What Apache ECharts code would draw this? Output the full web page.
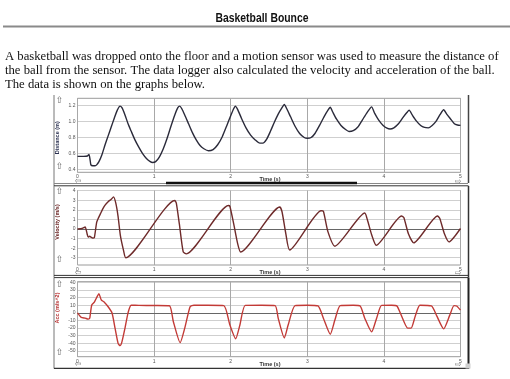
<!DOCTYPE html>
<html>
<head>
<meta charset="utf-8">
<script src="https://cdn.jsdelivr.net/npm/echarts@6/dist/echarts.min.js"></script>
<style>
html,body{margin:0;padding:0;background:#fff;}
#c{width:510px;height:379px;}
</style>
</head>
<body>
<div id="c"></div>
<script>
// ---------- data ----------
const xTicks = [0, 1, 2, 3, 4, 5];
const distYTicks = [0.4, 0.6, 0.8, 1.0, 1.2];
const velYTicks = [-3, -2, -1, 0, 1, 2, 3, 4];
const accYTicks = [-50, -40, -30, -20, -10, 0, 10, 20, 30, 40];

const distT = [0.00,0.08,0.13,0.15,0.165,0.175,0.20,0.23,0.25,0.28,0.32,0.36,0.40,0.44,0.48,0.52,0.555,0.58,0.62,0.66,0.70,0.75,0.80,0.85,0.90,0.95,0.98,1.02,1.07,1.12,1.17,1.22,1.27,1.31,1.335,1.36,1.40,1.45,1.50,1.55,1.60,1.65,1.71,1.77,1.83,1.89,1.95,2.00,2.04,2.06,2.09,2.14,2.20,2.26,2.32,2.38,2.42,2.47,2.52,2.57,2.62,2.67,2.70,2.73,2.78,2.84,2.90,2.96,3.00,3.05,3.10,3.16,3.22,3.27,3.30,3.33,3.38,3.44,3.50,3.545,3.60,3.66,3.72,3.78,3.84,3.88,3.93,3.99,4.04,4.08,4.13,4.19,4.25,4.30,4.33,4.37,4.42,4.48,4.53,4.58,4.63,4.68,4.73,4.78,4.82,4.87,4.92,4.96,5.00];
const distV = [0.565,0.565,0.57,0.59,0.52,0.46,0.45,0.45,0.46,0.50,0.59,0.71,0.82,0.93,1.04,1.14,1.19,1.17,1.08,0.97,0.88,0.77,0.68,0.60,0.54,0.50,0.49,0.50,0.56,0.66,0.79,0.94,1.08,1.17,1.19,1.16,1.08,0.97,0.86,0.77,0.70,0.66,0.635,0.65,0.71,0.81,0.95,1.07,1.16,1.19,1.15,1.04,0.92,0.83,0.77,0.73,0.73,0.78,0.88,0.99,1.09,1.17,1.21,1.16,1.06,0.94,0.85,0.80,0.79,0.80,0.85,0.95,1.06,1.14,1.175,1.12,1.03,0.95,0.90,0.875,0.885,0.93,1.02,1.11,1.18,1.10,1.02,0.95,0.915,0.905,0.92,0.97,1.05,1.11,1.14,1.08,1.01,0.95,0.925,0.92,0.95,1.00,1.08,1.145,1.09,1.03,0.97,0.955,0.95];

const velT = [0.00,0.06,0.10,0.125,0.14,0.16,0.175,0.20,0.22,0.25,0.27,0.30,0.33,0.36,0.40,0.44,0.47,0.50,0.53,0.56,0.60,0.63,1.27,1.29,1.33,1.38,1.42,1.97,1.99,2.04,2.09,2.13,2.64,2.67,2.72,2.77,3.18,3.21,3.27,3.36,3.75,3.79,3.84,3.90,4.23,4.26,4.32,4.39,4.70,4.73,4.79,4.85,5.00];
const velV = [0.0,0.05,0.2,-0.5,-0.85,-0.75,-0.85,-0.95,-0.9,0.7,1.1,1.6,2.1,2.5,2.85,3.1,3.35,2.7,1.3,-0.7,-2.2,-3.0,2.98,2.7,0.5,-2.4,-2.6,2.45,2.35,0.5,-1.5,-2.4,2.3,1.8,-0.5,-2.2,1.9,1.85,-0.3,-1.8,1.67,0.8,-0.6,-1.7,1.35,1.2,-0.5,-1.45,1.35,1.1,-0.5,-1.35,0.05];

const accT = [0.00,0.05,0.10,0.14,0.16,0.185,0.22,0.25,0.28,0.31,0.35,0.40,0.45,0.49,0.53,0.555,0.58,0.62,0.66,0.70,0.80,1.00,1.20,1.25,1.34,1.40,1.47,1.52,1.70,1.91,1.99,2.065,2.12,2.19,2.40,2.58,2.62,2.70,2.75,2.84,3.00,3.14,3.21,3.30,3.36,3.43,3.60,3.69,3.75,3.84,3.905,3.97,4.10,4.17,4.23,4.31,4.355,4.41,4.47,4.62,4.69,4.78,4.86,4.915,4.95,5.00];
const accV = [0,-6,-7,-8.2,-7,10,14,20,25,17,14,8,0,-20,-40,-43,-38,-20,0,10,9.8,9.6,9.3,-11,-39,-20,8,10,10,9.5,-16,-34,-16,9.8,10,9.5,-7,-33,-16,9.5,10,9,-7,-28,-9.5,9.5,10,9,-7,-25,-7,9.8,10,9,-4,-20,-20,-4,10,9,-4,-21,-3,9.5,9,3.5];

// ---------- layout ----------
const plotLeft = 77.5, plotWidth = 383;
const panels = [
  {plotTop:98.3, plotBottom:172.3, tickTop:105.3, tickBottom:169.7, ticks:distYTicks, t:distT, v:distV,
   color:'#2a2a3a', dec:1, zero:false},
  {plotTop:190.5, plotBottom:265, tickTop:190.7, tickBottom:257.7, ticks:velYTicks, t:velT, v:velV,
   color:'#6e2a2a', dec:0, zero:true},
  {plotTop:281.7, plotBottom:356.7, tickTop:282.3, tickBottom:351, ticks:accYTicks, t:accT, v:accV,
   color:'#c23a36', dec:0, zero:true}
];

const grid = [], xAxis = [], yAxis = [], series = [];
panels.forEach((p, i) => {
  const tMin = p.ticks[0], tMax = p.ticks[p.ticks.length - 1];
  const step = p.ticks[1] - p.ticks[0];
  const ppu = (p.tickBottom - p.tickTop) / (tMax - tMin);
  const dMax = tMax + (p.tickTop - p.plotTop) / ppu;
  const dMin = tMin - (p.plotBottom - p.tickBottom) / ppu;
  grid.push({left:plotLeft, top:p.plotTop, width:plotWidth, height:p.plotBottom - p.plotTop,
    show:true, borderColor:'#9a9a9a', borderWidth:1, backgroundColor:'transparent'});
  grid.push({left:plotLeft, top:p.tickTop, width:plotWidth, height:p.tickBottom - p.tickTop, show:false});
  xAxis.push({type:'value', gridIndex:2*i, min:xTicks[0], max:xTicks[xTicks.length-1], interval:xTicks[1]-xTicks[0],
    axisLine:{show:false}, axisTick:{show:false},
    axisLabel:{fontSize:5, color:'#555', margin:2, fontFamily:'Liberation Sans'},
    splitLine:{show:true, lineStyle:{color:'#a8a8a8', width:1}}});
  xAxis.push({type:'value', gridIndex:2*i+1, min:xTicks[0], max:xTicks[xTicks.length-1], show:false});
  yAxis.push({type:'value', gridIndex:2*i, min:dMin, max:dMax, show:false, splitLine:{show:false}});
  yAxis.push({type:'value', gridIndex:2*i+1, min:tMin, max:tMax, interval:step,
    axisLine:{show:false}, axisTick:{show:false},
    axisLabel:{fontSize:5, color:'#555', margin:2, fontFamily:'Liberation Sans',
      formatter: v => v.toFixed(p.dec)},
    splitLine:{show:true, lineStyle:{color:'#cfcfcf', width:1}}});
  const s = {type:'line', xAxisIndex:2*i, yAxisIndex:2*i, data:p.t.map((x, k) => [x, p.v[k]]),
    symbol:'none', smooth:0.2, lineStyle:{color:p.color, width:1.4}, z:5, silent:true};
  if (p.zero) {
    s.markLine = {silent:true, symbol:'none', label:{show:false},
      lineStyle:{color:'#666', width:1, type:'solid'}, data:[{yAxis:0}]};
  }
  series.push(s);
});

// ---------- decorations (text, frames, icons) ----------
const g = [];
function txt(x, y, text, font, fill, opts) {
  g.push(Object.assign({type:'text', x:x, y:y, silent:true, z:10,
    style:{text:text, x:0, y:0, font:font, fill:fill, align:'center', verticalAlign:'middle',
      textAlign:'center', textVerticalAlign:'middle'}}, opts || {}));
}
function ln(x1, y1, x2, y2, color, w) {
  g.push({type:'line', silent:true, z:10, shape:{x1:x1, y1:y1, x2:x2, y2:y2},
    style:{stroke:color, lineWidth:w}});
}
txt(262, 18, 'Basketball Bounce', 'bold 13px "Liberation Sans", Arial, sans-serif', '#111', {scaleX:0.8});
ln(3, 26.5, 510, 26.5, '#8a8a8a', 2);
const para = [
  'A basketball was dropped onto the floor and a motion sensor was used to measure the distance of',
  'the ball from the sensor. The data logger also calculated the velocity and acceleration of the ball.',
  'The data is shown on the graphs below.'
];
para.forEach((line, k) => {
  g.push({type:'text', x:5, y:56.5 + k*14, silent:true, z:10,
    style:{text:line, x:0, y:0, font:'12.7px "Liberation Serif", "Times New Roman", serif', fill:'#111',
      align:'left', verticalAlign:'middle', textAlign:'left', textVerticalAlign:'middle'}});
});

// panel frames
ln(54, 95, 54, 186, '#777', 1);
ln(468.5, 95, 468.5, 183, '#444', 1.5);
ln(54, 183.5, 468, 183.5, '#888', 1);
ln(166, 183, 357, 183, '#111', 2.5);
ln(54, 185.8, 468.5, 185.8, '#333', 1);
ln(54, 186, 54, 277.5, '#777', 1);
ln(468.5, 186, 468.5, 277.5, '#333', 1.5);
ln(54, 275.4, 468.5, 275.4, '#333', 1);
ln(54, 277.6, 468.5, 277.6, '#333', 1);
ln(54, 277.6, 54, 368.5, '#777', 1);
ln(468.5, 277.6, 468.5, 368.5, '#222', 2);
ln(54, 368.3, 469, 368.3, '#333', 1.2);
g.push({type:'rect', silent:true, z:10, shape:{x:465.5, y:363.5, width:5, height:5}, style:{fill:'#cfcfcf'}});

// axis names & icons
const yNames = [['Distance (m)', 137.7, '#2a3050'], ['Velocity (m/s)', 222, '#6a2424'], ['Acc (m/s^2)', 308, '#b83434']];
yNames.forEach(n => txt(57, n[1], n[0], 'bold 5.5px "Liberation Sans", sans-serif', n[2], {rotation:Math.PI/2}));
[179.5, 272.5, 364.5].forEach(y => txt(270, y, 'Time (s)', 'bold 5.5px "Liberation Sans", sans-serif', '#333'));
const upIcons = [[101, 167], [192, 260], [285, 353]];
upIcons.forEach(pr => pr.forEach(y => txt(59.5, y, '\u21E7', '9px "DejaVu Sans", sans-serif', '#666')));
[181, 272.5, 364].forEach(y => {
  txt(79, y, '\u21E7', '8px "DejaVu Sans", sans-serif', '#777', {rotation:Math.PI/2});
  txt(457, y, '\u21E7', '8px "DejaVu Sans", sans-serif', '#777', {rotation:-Math.PI/2});
});

const chart = echarts.init(document.getElementById('c'), null, {renderer:'canvas'});
chart.setOption({
  animation:false,
  backgroundColor:'#ffffff',
  grid:grid, xAxis:xAxis, yAxis:yAxis, series:series,
  graphic:{elements:g}
});
</script>
</body>
</html>
